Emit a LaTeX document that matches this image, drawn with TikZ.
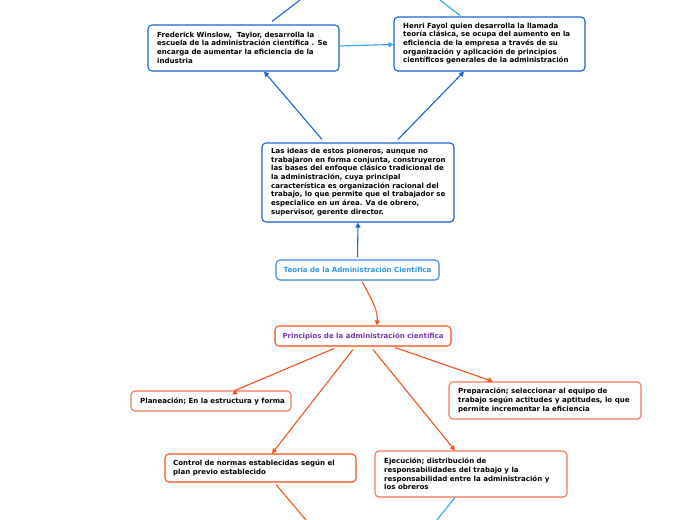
\documentclass[tikz,border=0pt]{standalone}
\usepackage{fontspec}
\setmainfont{DejaVu Sans}
\usetikzlibrary{arrows.meta,shadows}
\definecolor{bdark}{HTML}{1B63D1}
\definecolor{blight}{HTML}{2AA3E8}
\definecolor{bteo}{HTML}{3D8AE0}
\definecolor{tteo}{HTML}{2E95E6}
\definecolor{oline}{HTML}{F4511E}
\definecolor{osoft}{HTML}{F4795A}
\definecolor{purp}{HTML}{7A35A8}
\tikzset{
  box/.style={draw, rounded corners=4bp, line width=1.1bp, fill=white,
    drop shadow={shadow xshift=0.6bp, shadow yshift=-1bp, opacity=0.18},
    inner sep=0pt},
  txt/.style={font=\bfseries\fontsize{7.05}{8.7}\selectfont, align=left, inner sep=0pt},
  con/.style={line width=1.1bp},
  tip/.style={-{Triangle[length=5bp,width=5bp]}},
}
\begin{document}
\begin{tikzpicture}[x=1bp,y=-1bp]
\useasboundingbox (0,0) rectangle (696,520);
% boxes
\node[box, draw=bdark, minimum width=191bp, minimum height=46bp] (taylor) at (243.5,48) {};
\node[txt, anchor=west] (taylort) at (157,47.5) {Frederick Winslow,\ \ Taylor, desarrolla la\\escuela de la administración científica . Se\\encarga de aumentar la eficiencia de la\\industria};
\node[box, draw=bdark, minimum width=191bp, minimum height=54bp] (fayol) at (489.5,44) {};
\node[txt, anchor=west] (fayolt) at (403,43.5) {Henri Fayol quien desarrolla la llamada\\teoría clásica, se ocupa del aumento en la\\eficiencia de la empresa a través de su\\organización y aplicación de principios\\científicos generales de la administración};
\node[box, draw=bdark, minimum width=192bp, minimum height=79bp] (ideas) at (358,182.5) {};
\node[txt, anchor=west] (ideast) at (271,182) {Las ideas de estos pioneros, aunque no\\trabajaron en forma conjunta, construyeron\\las bases del enfoque clásico tradicional de\\la administración, cuya principal\\característica es organización racional del\\trabajo, lo que permite que el trabajador se\\especialice en un área. Va de obrero,\\supervisor, gerente director.};
\node[box, draw=bteo, minimum width=163bp, minimum height=20bp] (teoria) at (357.5,270) {};
\node[txt, text=tteo] (teoriat) at (357.5,270) {Teoría de la Administración Científica};
\node[box, draw=oline, minimum width=176bp, minimum height=20bp] (princ) at (363,336) {};
\node[txt, text=purp] (princt) at (363,336) {Principios de la administración científica};
\node[box, draw=osoft, minimum width=160bp, minimum height=20bp] (plan) at (211,401) {};
\node[txt, anchor=west] (plant) at (140,401) {Planeación; En la estructura y forma};
\node[box, draw=osoft, minimum width=192bp, minimum height=37bp] (prep) at (545,400.5) {};
\node[txt, anchor=west] (prept) at (458,400.5) {Preparación; seleccionar al equipo de\\trabajo según actitudes y aptitudes, lo que\\permite incrementar la eficiencia};
\node[box, draw=oline, minimum width=191bp, minimum height=28bp] (ctrl) at (260.5,468) {};
\node[txt, anchor=west] (ctrlt) at (173,468) {Control de normas establecidas según el\\plan previo establecido};
\node[box, draw=osoft, minimum width=192bp, minimum height=46bp] (ejec) at (471,474) {};
\node[txt, anchor=west] (eject) at (384,474) {Ejecución; distribución de\\responsabilidades del trabajo y la\\responsabilidad entre la administración y\\los obreros};
% free ends
\coordinate (tayup) at (300,0);
\coordinate (fayup) at (440,0);
\coordinate (ctrldn) at (306,520);
\coordinate (ejecdn) at (437,520);
% connectors
\draw[con, bdark] (taylor.north -| 272,0) ++(0,-3) -- (tayup);
\draw[con, blight] (fayol.north -| 460,0) ++(0,-1) -- (fayup);
\draw[con, blight, tip] (taylor.east) ++(0,-2) -- ([yshift=-0.5bp]fayol.west);
\draw[con, bdark, tip] (ideas.north -| 322,0) ++(0,-3) -- (taylor.south -| 264,0);
\draw[con, bdark, tip] (ideas.north -| 398,0) ++(0,-3) -- (fayol.south -| 464,0);
\draw[con, bdark, tip] (teoria.north) ++(0,-2) -- (ideas.south);
\draw[con, oline, tip] (teoria.south -| 362,0) ++(0,1) .. controls (371,298) and (378,310) .. (princ.north -| 377,0);
\draw[con, oline, tip] (princ.south -| 334,0) ++(0,2) -- (plan.north -| 235,0) ++(0,-1);
\draw[con, oline, tip] (princ.south -| 353,0) ++(0,3) -- (ctrl.north -| 272,0);
\draw[con, oline, tip] (princ.south -| 373,0) ++(0,3) -- (ejec.north -| 455,0);
\draw[con, oline, tip] (princ.south -| 395,0) ++(0,1) -- (prep.north -| 493,0);
\draw[con, oline] (ctrl.south -| 276,0) ++(0,2) -- (ctrldn);
\draw[con, blight] (ejec.south -| 455,0) -- (ejecdn);
\end{tikzpicture}
\end{document}
